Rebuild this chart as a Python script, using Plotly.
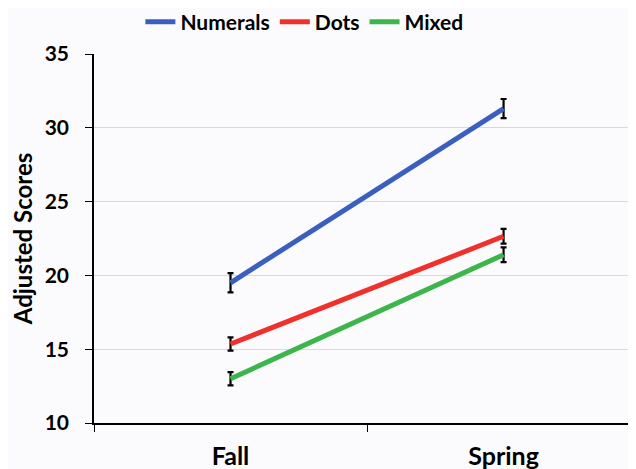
import plotly.graph_objects as go

seasons = ["Fall", "Spring"]
numerals = [19.5, 31.3]
numerals_err = [0.65, 0.65]
dots = [15.35, 22.65]
dots_err = [0.45, 0.5]
mixed = [13.0, 21.4]
mixed_err = [0.45, 0.5]
y_ticks = [10, 15, 20, 25, 30, 35]

series = [
    ("Numerals", numerals, numerals_err, "#3a5fbf"),
    ("Dots", dots, dots_err, "#f0302a"),
    ("Mixed", mixed, mixed_err, "#3cb54a"),
]

fig = go.Figure()
for name, vals, errs, color in series:
    fig.add_trace(go.Scatter(
        x=seasons, y=vals, name=name, mode="lines",
        line=dict(color=color, width=5),
        error_y=dict(type="data", array=errs, visible=True, color="black",
                     thickness=2.2, width=3),
    ))

fig.update_layout(
    width=636, height=469,
    margin=dict(l=86, r=8, t=46, b=54, autoexpand=False),
    paper_bgcolor="#fbfbfd", plot_bgcolor="#fbfbfd",
    font=dict(family="Lato", color="black"),
    showlegend=True,
    legend=dict(orientation="h", x=0.466, xanchor="center",
                y=1 - 14 / 469, yanchor="middle", yref="container", xref="container",
                font=dict(size=21, family="Lato", weight="bold"),
                itemwidth=30, tracegroupgap=0, bgcolor="rgba(0,0,0,0)"),
    xaxis=dict(type="category", range=[-0.5, 1.485], tickson="boundaries",
               ticks="outside", ticklen=7, tickcolor="black", tickwidth=1,
               showline=True, linecolor="black", linewidth=1.5, showgrid=False,
               automargin=False, ticklabelstandoff=10,
               tickfont=dict(size=25, family="Lato", weight="bold")),
    yaxis=dict(range=[10, 35], tickvals=y_ticks, ticks="outside", ticklen=7,
               tickcolor="black", tickwidth=1, showline=True, linecolor="black", linewidth=1.5,
               showgrid=True, gridcolor="#d9d9d9", gridwidth=1, zeroline=False,
               automargin=False, ticklabelstandoff=12,
               tickfont=dict(size=21, family="Lato", weight="bold"),
               title=dict(text="Adjusted Scores", standoff=12,
                          font=dict(size=24, family="Lato", weight="bold"))),
)

fig.write_html("out.html")
